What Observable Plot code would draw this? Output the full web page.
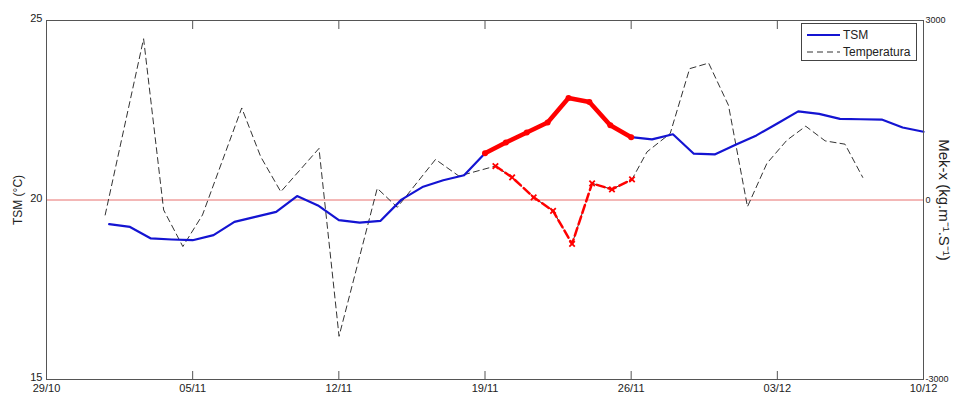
<!DOCTYPE html>
<html><head><meta charset="utf-8">
<script src="https://cdn.jsdelivr.net/npm/d3@7"></script>
<script src="https://cdn.jsdelivr.net/npm/@observablehq/plot@0.6"></script>
<style>
body{margin:0;background:#fff;font-family:"Liberation Sans",Arial,sans-serif;}
#wrap{position:relative;width:954px;height:394px;}
#legend{position:absolute;left:801px;top:23px;width:116px;height:38px;border:1px solid #444;background:#fff;font-size:12px;box-sizing:border-box;}
#legend text{font-family:"Liberation Sans",Arial,sans-serif;font-size:12px;fill:#222;}
</style></head><body><div id="wrap"></div>
<script>
// ---- data ----
const startDate = "2009-10-29";
const endDate = "2009-12-10";
const tickLabels = ["29/10","05/11","12/11","19/11","26/11","03/12","10/12"];
const tickDays = [0,7,14,21,28,35,42];
const tsmTicks = [15,20,25];
const mekTickLabels = ["-3000","0","3000"];

// TSM (°C), one value per day (days after 29/10)
const tsmDays = [3,4,5,6,7,8,9,10,11,12,13,14,15,16,17,18,19,20,21,22,23,24,25,26,27,28,29,30,31,32,33,34,35,36,37,38,39,40,41,42];
const tsmValues = [19.33,19.25,18.93,18.90,18.88,19.02,19.39,19.53,19.67,20.11,19.85,19.44,19.37,19.42,20.01,20.36,20.55,20.69,21.30,21.60,21.88,22.16,22.84,22.73,22.08,21.75,21.69,21.83,21.29,21.27,21.54,21.80,22.13,22.47,22.40,22.26,22.25,22.24,22.02,21.90];

// Mek-x (kg.m-1.s-1), dashed series (days after 29/10)
const mekDays = [2.81,4.65,5.61,6.53,7.47,9.35,10.26,11.22,13.05,14.01,15.84,16.80,18.63,19.75,21.50,22.30,23.33,24.26,25.17,26.13,27.08,28.04,28.76,29.87,30.80,31.71,32.66,33.57,34.50,35.46,36.36,37.29,38.24,39.09];
const mekValues = [-250,2695,-167,-778,-250,1538,722,138,862,-2278,195,-122,678,400,567,378,45,-183,-733,278,178,345,805,1112,2195,2288,1583,-112,612,1000,1233,988,933,378];

// highlighted period (days after 29/10)
const highlightFrom = 21, highlightTo = 28.1;
const mekHighlightFrom = 21.4;

const tsmDomain = [15,25];
const mekDomain = [-3000,3000];
const seriesNames = ["TSM","Temperatura"];

// ---- helpers ----
const t0 = new Date(startDate + "T00:00:00Z");
const dayToDate = d => new Date(t0.getTime() + d * 864e5);
const mekToTsm = m => tsmDomain[0] + (m - mekDomain[0]) / (mekDomain[1] - mekDomain[0]) * (tsmDomain[1] - tsmDomain[0]);

const tsm = tsmDays.map((d,i) => ({day:d, date:dayToDate(d), v:tsmValues[i]}));
const mek = mekDays.map((d,i) => ({day:d, date:dayToDate(d), v:mekToTsm(mekValues[i])}));
const tsmHi = tsm.filter(p => p.day >= highlightFrom && p.day <= highlightTo);
const mekHi = mek.filter(p => p.day >= mekHighlightFrom && p.day <= highlightTo);
const ticks = tickDays.map(dayToDate);
const innerTicks = ticks.slice(1, -1);
const fmt = d => tickLabels[ticks.findIndex(t => t.getTime() === d.getTime())];
const baseline = mekToTsm(0);

const blue = "#1414d2", red = "#ff0000", gray = "#333";

const chart = Plot.plot({
  width: 954, height: 394,
  marginLeft: 46, marginRight: 31, marginTop: 20, marginBottom: 15,
  style: {fontFamily: "Liberation Sans, Arial, sans-serif", color: "#222", background: "#fff"},
  x: {type: "utc", domain: [dayToDate(0), new Date(endDate + "T00:00:00Z")]},
  y: {domain: tsmDomain},
  marks: [
    Plot.ruleY([baseline], {stroke: "#e8706e", strokeWidth: 1}),
    Plot.line(mek, {x: "date", y: "v", stroke: gray, strokeWidth: 1, strokeDasharray: "6,4"}),
    Plot.line(tsm, {x: "date", y: "v", stroke: blue, strokeWidth: 2.2}),
    Plot.line(mekHi, {x: "date", y: "v", stroke: red, strokeWidth: 2.5, strokeDasharray: "8,4"}),
    Plot.dot(mekHi, {x: "date", y: "v", symbol: "times", stroke: red, strokeWidth: 1.8, r: 2.6}),
    Plot.line(tsmHi, {x: "date", y: "v", stroke: red, strokeWidth: 4.5}),
    Plot.dot(tsmHi, {x: "date", y: "v", fill: red, r: 3}),
    Plot.frame({stroke: "#555"}),
    Plot.axisX({anchor: "bottom", ticks: ticks, tickFormat: fmt, tickSize: 0, tickPadding: 5, fontSize: 11, label: null}),
    Plot.axisX({anchor: "bottom", ticks: innerTicks, tickFormat: () => "", tickSize: -8, stroke: "#555", label: null}),
    Plot.axisX({anchor: "top", ticks: innerTicks, tickFormat: () => "", tickSize: -8, stroke: "#555", label: null}),
    Plot.axisY({anchor: "left", ticks: tsmTicks, tickSize: 0, tickPadding: 4, fontSize: 11, dy: -2, label: null}),
    Plot.axisY({anchor: "right", ticks: tsmTicks, tickFormat: t => mekTickLabels[tsmTicks.indexOf(t)], tickSize: 0, tickPadding: 2, fontSize: 9, label: null}),
    Plot.text(["TSM (°C)"], {frameAnchor: "left", rotate: -90, dx: -28, textAnchor: "middle", fontSize: 12, fill: "#222"}),
    Plot.text(["Mek-x (kg.m⁻¹.S⁻¹)"], {frameAnchor: "right", rotate: 90, dx: 20, textAnchor: "middle", fontSize: 15, fill: "#222"})
  ]
});
const wrap = document.getElementById("wrap");
wrap.appendChild(chart);

const legend = document.createElement("div");
legend.id = "legend";
legend.innerHTML = `<svg width="114" height="36">
<line x1="5" x2="38" y1="11" y2="11" stroke="${blue}" stroke-width="2"/>
<text x="41" y="15">${seriesNames[0]}</text>
<line x1="5" x2="38" y1="28" y2="28" stroke="${gray}" stroke-width="1" stroke-dasharray="6,4"/>
<text x="41" y="32">${seriesNames[1]}</text></svg>`;
wrap.appendChild(legend);
</script></body></html>
